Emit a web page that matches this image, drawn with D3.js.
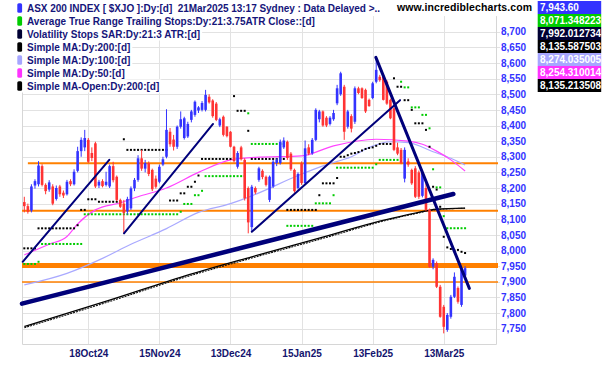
<!DOCTYPE html>
<html><head><meta charset="utf-8">
<script src="https://cdn.jsdelivr.net/npm/d3@7"></script>
<style>
body{margin:0;background:#fff}
svg{display:block}
text{font-family:"Liberation Sans",Arial,sans-serif;font-weight:bold;white-space:pre}
</style>
</head><body>
<svg id="c" width="602" height="365"></svg>
<script>
// ---------- DATA ----------
const opens = [8155,8142,8128,8208,8212,8270,8210,8195,8205,8165,
8205,8185,8180,8222,8212,8255,8318,8330,8354,8312,
8343,8208,8222,8210,8205,8270,8236,8162,8150,8125,
8135,8199,8226,8295,8262,8280,8258,8230,8220,8275,
8300,8380,8355,8332,8396,8360,8365,8418,8434,8448,
8450,8450,8492,8480,8470,8400,8428,8396,8380,8332,
8268,8330,8290,8200,8075,8200,8226,8255,8236,8162,
8205,8280,8280,8330,8348,8310,8258,8200,8279,8216,
8330,8311,8354,8420,8445,8425,8405,8420,8471,8500,
8524,8396,8430,8412,8519,8519,8514,8482,8488,8540,
8556,8556,8540,8482,8455,8330,8322,8230,8285,8258,
8263,8250,8175,8200,8130,7948,7960,7884,7820,7746,
7788,7852,7880,7826,7920];
const highs = [8172,8150,8212,8228,8286,8276,8215,8225,8212,8208,
8210,8192,8226,8228,8260,8332,8362,8386,8360,8330,
8348,8226,8228,8252,8275,8284,8240,8166,8162,8172,
8205,8232,8305,8322,8290,8285,8262,8240,8275,8300,
8452,8392,8370,8400,8445,8428,8412,8450,8480,8462,
8478,8514,8500,8484,8475,8425,8432,8398,8382,8335,
8318,8335,8295,8205,8210,8205,8268,8260,8240,8240,
8290,8295,8355,8362,8352,8315,8262,8250,8285,8352,
8340,8360,8455,8450,8448,8430,8430,8450,8530,8572,
8530,8450,8436,8525,8524,8522,8518,8486,8540,8618,
8562,8560,8545,8486,8458,8345,8328,8330,8295,8262,
8270,8256,8256,8215,8134,7975,7965,7890,7826,7800,
7858,7930,7885,7942,7950];
const lows = [8122,8118,8122,8198,8205,8205,8180,8188,8145,8160,
8172,8168,8176,8206,8208,8250,8300,8318,8280,8286,
8200,8200,8202,8205,8200,8218,8158,8136,8055,8115,
8130,8190,8220,8255,8250,8238,8190,8198,8215,8270,
8295,8332,8320,8325,8390,8355,8360,8410,8428,8440,
8445,8445,8470,8425,8414,8395,8365,8362,8330,8282,
8262,8288,8160,8055,8060,8180,8220,8228,8205,8155,
8200,8270,8275,8325,8290,8255,8185,8195,8210,8212,
8305,8306,8350,8410,8396,8395,8400,8415,8465,8495,
8354,8390,8378,8405,8500,8485,8440,8460,8484,8535,
8540,8480,8466,8420,8318,8305,8276,8218,8268,8210,
8168,8165,8170,8125,7945,7940,7880,7785,7735,7740,
7782,7848,7830,7820,7915];
const closes = [8142,8124,8205,8222,8272,8210,8190,8218,8150,8200,
8180,8176,8220,8212,8252,8318,8354,8360,8284,8296,
8205,8220,8206,8220,8270,8225,8162,8140,8120,8165,
8199,8226,8295,8262,8280,8245,8196,8204,8268,8292,
8386,8340,8332,8396,8420,8423,8405,8445,8476,8458,
8472,8498,8474,8430,8418,8420,8370,8366,8332,8286,
8312,8292,8167,8090,8204,8186,8263,8235,8210,8236,
8284,8290,8348,8352,8296,8260,8190,8245,8216,8327,
8310,8354,8450,8445,8400,8400,8425,8440,8519,8567,
8380,8445,8390,8519,8504,8488,8445,8462,8535,8578,
8545,8482,8470,8423,8322,8310,8280,8322,8275,8215,
8172,8172,8250,8130,7948,7970,7884,7788,7756,7794,
7852,7916,7836,7938,7943.6];

// Volatility Stops SAR (black dots), one per session
const volStop = [8007,8007,8007,8007,8071,8071,8071,8071,8071,8071,
8071,8071,8071,8071,8071,8081,8130,8130,8164,8164,
8164,8156,8156,8156,8156,8156,8156,8156,8356,8322,
8322,8322,8322,8322,8322,8322,8322,8322,8322,8322,
8322,8160,8160,8160,8183,8183,8204,8204,8220,8240,
8293,8293,8293,8293,8293,8293,8293,8293,8293,8494,
8447,8447,8447,8383,8293,8293,8293,8293,8293,8293,
8293,8293,8293,8293,8130,8130,8130,8130,8130,8130,
8130,8130,8130,8177,8215,8215,8215,8215,8232,8300,
8300,8305,8310,8312,8315,8320,8325,8328,8330,8335,
8341,8341,8341,8341,8551,8524,8524,8481,8481,8450,
8407,8407,8407,8386,8332,8204,8195,8140,8044,8010,
8005,8000,8002,7996,7992.01];
// ATR trailing stops (green dots)
const atrStop = [7957,7957,7957,7957,7964,8021,8021,8021,8021,8021,
8021,8021,8021,8021,8021,8021,8021,8116,8116,8116,
8116,8116,8116,8116,8116,8116,8116,8116,8116,8116,
8116,8116,8116,8116,8116,8116,8116,8116,8116,8116,
8116,8116,8116,8116,8124,8149,8149,8149,8177,8177,
8191,8238,8238,8238,8238,8238,8238,8238,8238,8238,
8238,8238,8238,8439,8341,8341,8341,8341,8341,8341,
8341,8341,8341,8341,8079,8079,8079,8079,8079,8079,
8079,8079,8151,8151,8151,8151,8151,8177,8265,8265,
8265,8265,8265,8265,8265,8265,8265,8265,8265,8276,
8290,8290,8290,8290,8290,8290,8540,8522,8522,8458,
8458,8458,8434,8434,8391,8260,8202,8202,8110,8071.35,
8071.35,8071.35,8071.35,8071.35,8071.35];

// Moving averages: [session index, value]
const ma50 = [[0,7986],[7,8020],[12,8045],[15,8085],[20,8130],[27,8153],[32,8172],[40,8200],[49,8250],[58,8290],[65,8298],[78,8303],[87,8335],[99,8356],[108,8350],[112,8340],[116,8318],[120,8290],[124,8254.31]];
const ma100 = [[0,7890],[12,7927],[22,7975],[30,8020],[40,8070],[49,8122],[58,8150],[64,8175],[77,8240],[85,8275],[92,8300],[97,8330],[103,8348],[108,8345],[115,8316],[120,8295],[124,8274.04]];
const ma200 = [[0,7757],[24,7841],[45,7918],[64,7980],[85,8046],[100,8094],[110,8120],[116,8132],[124,8135.59]];
const ma200open = [[0,7753],[24,7837],[45,7914],[64,7976],[85,8042],[100,8091],[110,8118],[116,8131],[124,8135.21]];

// User-drawn trend lines: [index1, value1, index2, value2]
const trendLines = [[-0.45,7964,23.9,8290],[28.05,8055,53.1,8405],[64,8060,105.7,8481],[98.9,8618,125.2,7879],[-0.65,7830,120.7,8181]];
// Horizontal support / resistance levels and the session they start at
const levels = [8279,8127,7952,7899];
const levelFrom = [1,-0.65,-0.65,-0.65];

const tickIdx = [18,38,58,78,98,118];
const tickLabels = ["18Oct24","15Nov24","13Dec24","15Jan25","13Feb25","13Mar25"];
const yTicks = [7750,7800,7850,7900,7950,8000,8050,8100,8150,8200,8250,8300,8350,8400,8450,8500,8550,8600,8650,8700];

const legendLabels = ["ASX 200 INDEX [ $XJO ]:Dy:[d]  21Mar2025 13:17 Sydney : Data Delayed >..",
"Average True Range Trailing Stops:Dy:21:3.75ATR Close::[d]",
"Volatility Stops SAR:Dy:21:3 ATR:[d]",
"Simple MA:Dy:200:[d]","Simple MA:Dy:100:[d]","Simple MA:Dy:50:[d]","Simple MA-Open:Dy:200:[d]"];
const legendColors = ["#3333ff","#00cc00","#000033","#000000","#a6a6ff","#ff33ff","#000000"];
const boxValues = ["7,943.60","8,071.348223","7,992.012734","8,135.587503","8,274.035005","8,254.310014","8,135.213508"];

// ---------- DRAWING ----------
const svg = d3.select("#c");
const L = 22, R = 496, B = 344.3, T = 16.1;
const x = d3.scaleLinear().domain([-0.65, 132.7]).range([L, R]);
const y = d3.scaleLinear().domain([7700, 8750]).range([B, T]);

// grid
const grid = svg.append("g");
grid.selectAll("line.h").data(yTicks).join("line")
  .attr("x1", L).attr("x2", R + 4).attr("y1", d => Math.round(y(d)) + 0.5).attr("y2", d => Math.round(y(d)) + 0.5)
  .attr("stroke", "#e2e2e2");
grid.selectAll("line.v").data(tickIdx).join("line")
  .attr("x1", d => Math.round(x(d)) + 0.5).attr("x2", d => Math.round(x(d)) + 0.5)
  .attr("y1", T).attr("y2", B).attr("stroke", "#e2e2e2");
// frame
svg.append("path").attr("d", `M${L+0.5},${T}V${Math.round(B)+0.5}H${R+0.5}V${T}`)
  .attr("fill", "none").attr("stroke", "#d6d6d6");

// orange levels
const lvW = [2, 2, 5, 1.5];
svg.append("g").selectAll("line").data(levels).join("line")
  .attr("x1", (d, i) => x(levelFrom[i])).attr("x2", R + 2)
  .attr("y1", d => y(d)).attr("y2", d => y(d))
  .attr("stroke", "#ff8000").attr("stroke-width", (d, i) => lvW[i]);

// moving averages
const line = d3.line().x(d => x(d[0])).y(d => y(d[1])).curve(d3.curveMonotoneX);
svg.append("path").attr("d", line(ma100)).attr("fill", "none").attr("stroke", "#a9a9ff").attr("stroke-width", 1.2);
svg.append("path").attr("d", line(ma50)).attr("fill", "none").attr("stroke", "#ff44ff").attr("stroke-width", 1.2);
svg.append("path").attr("d", line(ma200)).attr("fill", "none").attr("stroke", "#000").attr("stroke-width", 1.3);
svg.append("path").attr("d", line(ma200open)).attr("fill", "none").attr("stroke", "#111").attr("stroke-width", 1.1)
  .attr("stroke-dasharray", "2,1");

// stops
svg.append("g").selectAll("rect").data(atrStop).join("rect")
  .attr("x", (d, i) => x(i) - 1).attr("y", d => y(d) - 1).attr("width", 2).attr("height", 2).attr("fill", "#00cc00");
svg.append("g").selectAll("rect").data(volStop).join("rect")
  .attr("x", (d, i) => x(i) - 1).attr("y", d => y(d) - 1).attr("width", 2).attr("height", 2).attr("fill", "#000");

// candles
const cg = svg.append("g");
const col = i => closes[i] >= opens[i] ? "#3333ff" : "#ff3333";
cg.selectAll("line").data(closes).join("line")
  .attr("x1", (d, i) => x(i)).attr("x2", (d, i) => x(i))
  .attr("y1", (d, i) => y(highs[i])).attr("y2", (d, i) => y(lows[i]))
  .attr("stroke", (d, i) => col(i)).attr("stroke-width", 1);
cg.selectAll("rect").data(closes).join("rect")
  .attr("x", (d, i) => x(i) - 1.3).attr("width", 2.6)
  .attr("y", (d, i) => y(Math.max(opens[i], d)))
  .attr("height", (d, i) => Math.max(1, Math.abs(y(opens[i]) - y(d))))
  .attr("fill", (d, i) => col(i));

// trend lines
const tW = [2, 2, 2, 3, 4.5];
svg.append("g").selectAll("line").data(trendLines).join("line")
  .attr("x1", d => x(d[0])).attr("y1", d => y(d[1])).attr("x2", d => x(d[2])).attr("y2", d => y(d[3]))
  .attr("stroke", "#00007a").attr("stroke-width", (d, i) => tW[i]).attr("stroke-linecap", "round");

// axes
const ya = svg.append("g").attr("transform", `translate(${R},0)`)
  .call(d3.axisRight(y).tickValues(yTicks).tickSize(0).tickPadding(5).tickFormat(d3.format(",")));
ya.select(".domain").remove();
ya.selectAll("text").attr("fill", "#3333ff").style("font-size", "10px").style("font-family", '"Liberation Sans",Arial,sans-serif').style("font-weight", "bold");
const xa = svg.append("g").attr("transform", `translate(0,${B})`)
  .call(d3.axisBottom(x).tickValues(tickIdx).tickSize(0).tickPadding(6).tickFormat((d, i) => tickLabels[i]));
xa.select(".domain").remove();
xa.selectAll("text").attr("fill", "#14146e").style("font-size", "10px").style("font-family", '"Liberation Sans",Arial,sans-serif').style("font-weight", "bold");

// legend
const lg = svg.append("g");
legendLabels.forEach((t, i) => {
  const cy = 8 + i * 13;
  const bg = lg.append("rect").attr("fill", "#fff");
  const tx = lg.append("text").attr("x", 27).attr("y", cy + 3.6).attr("fill", "#15157a").style("font-size", "10px").text(t);
  if (i === 0) tx.attr("textLength", 353).attr("lengthAdjust", "spacing");
  const w = i === 0 ? 353 : tx.node().getComputedTextLength();
  bg.attr("x", 15).attr("y", cy - 6.5).attr("width", w + 14).attr("height", 13);
  lg.append("rect").attr("x", 17.3).attr("y", cy - 4.8).attr("width", 4.8).attr("height", 9.6).attr("rx", 1.5)
    .attr("fill", legendColors[i]);
});
svg.append("text").attr("x", 397).attr("y", 11).attr("fill", "#000").style("font-size", "10.5px")
  .attr("textLength", 135).text("www.incrediblecharts.com");

// value boxes
const vb = svg.append("g");
boxValues.forEach((v, i) => {
  vb.append("rect").attr("x", 537.7).attr("y", 1 + i * 13).attr("width", 63.5).attr("height", 13).attr("fill", legendColors[i]);
  vb.append("text").attr("x", 540).attr("y", 11.2 + i * 13).attr("fill", "#fff").style("font-size", "10px").text(v);
});
</script>
</body></html>
